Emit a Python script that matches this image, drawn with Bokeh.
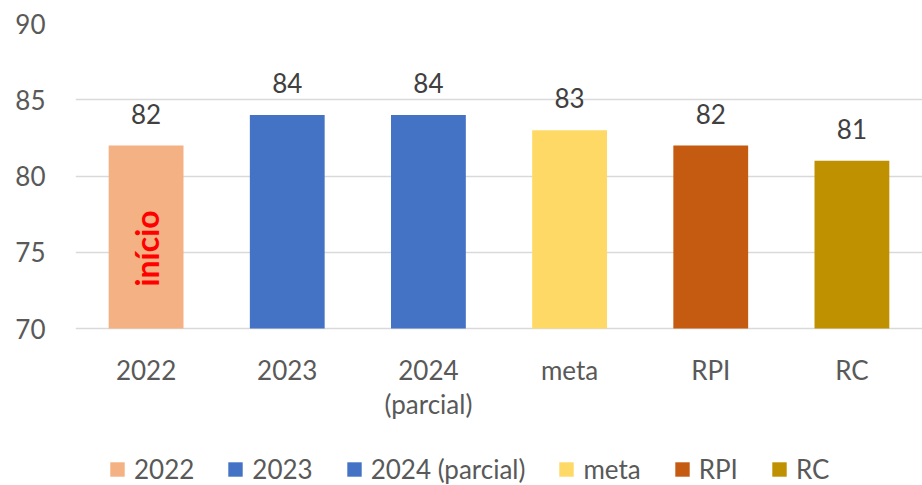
from bokeh.plotting import figure
from bokeh.models import ColumnDataSource, Legend, LegendItem, Range1d, FixedTicker
from bokeh.embed import file_html
from bokeh.resources import INLINE
from bokeh.core.properties import value
import math

categories = ["2022", "2023", "2024 (parcial)", "meta", "RPI", "RC"]
tick_labels = ["2022", "2023", "2024\n(parcial)", "meta", "RPI", "RC"]
values = [82, 84, 84, 83, 82, 81]
colors = ["#F4B183", "#4472C4", "#4472C4", "#FFD966", "#C55A11", "#BF9000"]
y_ticks = [70, 75, 80, 85, 90]
note_text = ["início"]
note_y = [75.25]

FONT = "Lato"
GRAY = "#595959"
Y_MIN, Y_MAX = y_ticks[0], y_ticks[-1]

# layout (pixels)
TOP = 23
AXIS_H = 305          # height spanned by the 70..90 value axis
BELOW = 157           # room under the value axis for category labels + legend
px_per_unit = AXIS_H / (Y_MAX - Y_MIN)

xs = list(range(len(categories)))
lines = [t.split("\n") for t in tick_labels]
src = ColumnDataSource(dict(x=xs, cat=categories, val=values, col=colors,
                            lab=[str(v) for v in values],
                            tick1=[l[0] for l in lines],
                            tick2=[l[1] if len(l) > 1 else "" for l in lines],
                            base=[Y_MIN] * len(xs)))

p = figure(width=922, height=485, x_range=Range1d(-0.5, len(categories) - 0.5),
           y_range=Range1d(Y_MIN - BELOW / px_per_unit, Y_MAX),
           output_backend="svg", toolbar_location=None, x_axis_location=None,
           min_border_left=75, min_border_right=0, min_border_top=TOP, min_border_bottom=0)
p.outline_line_color = None

r = p.vbar(x="x", top="val", bottom=Y_MIN, width=0.53, fill_color="col", line_color=None, source=src)

# value labels
p.text(x="x", y="val", text="lab", source=src, text_align="center", text_baseline="alphabetic",
       y_offset=-32, text_font=value(FONT), text_font_size="26px", text_color="#404040")

# category labels (x axis), two lines
p.text(x="x", y="base", text="tick1", source=src, text_align="center", text_baseline="alphabetic",
       y_offset=41, text_font=value(FONT), text_font_size="26px", text_color=GRAY)
p.text(x="x", y="base", text="tick2", source=src, text_align="center", text_baseline="alphabetic",
       y_offset=75, text_font=value(FONT), text_font_size="26px", text_color=GRAY)

# annotation inside first bar
p.text(x=[xs[0]], y=note_y, text=note_text, angle=math.pi / 2, text_align="center",
       text_baseline="middle", text_font=value(FONT), text_font_size="32px",
       text_font_style="bold", text_color="#FF0000")

p.xgrid.grid_line_color = None
p.ygrid.grid_line_color = "#D9D9D9"
p.ygrid.grid_line_width = 1.5
p.yaxis.ticker = FixedTicker(ticks=y_ticks)
p.yaxis.axis_line_color = None
p.yaxis.major_tick_line_color = None
p.yaxis.minor_tick_line_color = None
p.yaxis.major_label_standoff = 24
p.yaxis.major_label_text_font = FONT
p.yaxis.major_label_text_font_size = "26px"
p.yaxis.major_label_text_color = GRAY

items = [LegendItem(label=c, renderers=[r], index=i) for i, c in enumerate(categories)]
legend = Legend(items=items, orientation="horizontal", location=(33, 0),
                label_text_font=FONT, label_text_font_size="26px", label_text_color=GRAY,
                glyph_width=18, glyph_height=18, label_standoff=8, spacing=32,
                border_line_color=None, background_fill_alpha=0, padding=0, margin=0)
p.add_layout(legend, "center")

open("out.html", "w").write(file_html(p, INLINE))
